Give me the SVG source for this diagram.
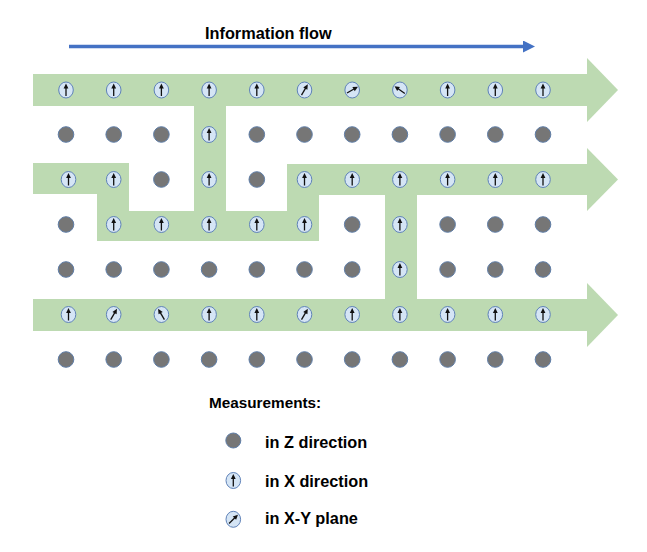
<svg xmlns="http://www.w3.org/2000/svg" xmlns:xlink="http://www.w3.org/1999/xlink" width="647" height="552" viewBox="0 0 647 552">
<style>
.t{font-family:"Liberation Sans",Arial,sans-serif;font-weight:bold;fill:#000}
.z{fill:#767676;stroke:#5f7ea8;stroke-width:1}
.xb{fill:#d5e5f5;stroke:#5f82b8;stroke-width:1}
.flow{fill:#bddab2}
</style>
<defs>
<ellipse id="xc" rx="7.3" ry="8" class="xb"/>
<g id="arr"><path d="M0,6 V-2.5" stroke="#111" stroke-width="1.3" fill="none"/><path d="M-2.4,-1.6 L0,-6.6 L2.4,-1.6Z" fill="#111"/></g>
<marker id="bh" viewBox="0 0 12 12" refX="0" refY="6" markerWidth="12" markerHeight="12" markerUnits="userSpaceOnUse" orient="auto"><path d="M0,0 L12,6 L0,12Z" fill="#4472c4"/></marker>
</defs>
<rect width="647" height="552" fill="#fff"/>

<g id="flow-paths" class="flow">
<rect x="33" y="74" width="555" height="32"/>
<polygon points="587,58 618,90 587,122"/>
<rect x="194" y="105" width="32" height="136"/>
<rect x="97" y="211" width="221" height="30"/>
<rect x="33" y="163" width="96" height="31"/>
<rect x="97" y="163" width="32" height="78"/>
<rect x="287" y="164" width="32" height="77"/>
<rect x="287" y="164" width="301" height="31"/>
<polygon points="587,148 618,179.5 587,211"/>
<rect x="385" y="194" width="32" height="106"/>
<rect x="33" y="299" width="555" height="32"/>
<polygon points="587,283 618,315 587,347"/>
</g>

<g id="connectors">
<line x1="69" y1="46.5" x2="523" y2="46.5" stroke="#4472c4" stroke-width="3.3" marker-end="url(#bh)"/>
</g>
<text class="t" x="205" y="39" font-size="16.3">Information flow</text>

<!-- Row 1 -->
<g id="r1">
<g id="r1c1"><use href="#xc" x="66" y="90"/><use href="#arr" transform="translate(66,90)"/></g>
<g id="r1c2"><use href="#xc" x="113.7" y="90"/><use href="#arr" transform="translate(113.7,90)"/></g>
<g id="r1c3"><use href="#xc" x="161.4" y="90"/><use href="#arr" transform="translate(161.4,90)"/></g>
<g id="r1c4"><use href="#xc" x="209.1" y="90"/><use href="#arr" transform="translate(209.1,90)"/></g>
<g id="r1c5"><use href="#xc" x="256.8" y="90"/><use href="#arr" transform="translate(256.8,90)"/></g>
<g id="r1c6"><use href="#xc" x="304.5" y="90"/><use href="#arr" transform="translate(304.5,90) rotate(30)"/></g>
<g id="r1c7"><use href="#xc" x="352.2" y="90"/><use href="#arr" transform="translate(352.2,90) rotate(60)"/></g>
<g id="r1c8"><use href="#xc" x="399.9" y="90"/><use href="#arr" transform="translate(399.9,90) rotate(-55)"/></g>
<g id="r1c9"><use href="#xc" x="447.6" y="90"/><use href="#arr" transform="translate(447.6,90)"/></g>
<g id="r1c10"><use href="#xc" x="495.3" y="90"/><use href="#arr" transform="translate(495.3,90)"/></g>
<g id="r1c11"><use href="#xc" x="543" y="90"/><use href="#arr" transform="translate(543,90)"/></g>
</g>

<!-- Row 2 -->
<g id="r2">
<g id="r2c1"><circle class="z" cx="66" cy="134.5" r="7.8"/></g>
<g id="r2c2"><circle class="z" cx="113.7" cy="134.5" r="7.8"/></g>
<g id="r2c3"><circle class="z" cx="161.4" cy="134.5" r="7.8"/></g>
<g id="r2c4"><use href="#xc" x="209.1" y="134.5"/><use href="#arr" transform="translate(209.1,134.5)"/></g>
<g id="r2c5"><circle class="z" cx="256.8" cy="134.5" r="7.8"/></g>
<g id="r2c6"><circle class="z" cx="304.5" cy="134.5" r="7.8"/></g>
<g id="r2c7"><circle class="z" cx="352.2" cy="134.5" r="7.8"/></g>
<g id="r2c8"><circle class="z" cx="399.9" cy="134.5" r="7.8"/></g>
<g id="r2c9"><circle class="z" cx="447.6" cy="134.5" r="7.8"/></g>
<g id="r2c10"><circle class="z" cx="495.3" cy="134.5" r="7.8"/></g>
<g id="r2c11"><circle class="z" cx="543" cy="134.5" r="7.8"/></g>
</g>

<!-- Row 3 -->
<g id="r3">
<g id="r3c1"><use href="#xc" x="68.5" y="179.5"/><use href="#arr" transform="translate(68.5,179.5)"/></g>
<g id="r3c2"><use href="#xc" x="113.7" y="179.5"/><use href="#arr" transform="translate(113.7,179.5)"/></g>
<g id="r3c3"><circle class="z" cx="161.4" cy="179.5" r="7.8"/></g>
<g id="r3c4"><use href="#xc" x="209.1" y="179.5"/><use href="#arr" transform="translate(209.1,179.5)"/></g>
<g id="r3c5"><circle class="z" cx="256.8" cy="179.5" r="7.8"/></g>
<g id="r3c6"><use href="#xc" x="304.5" y="179.5"/><use href="#arr" transform="translate(304.5,179.5)"/></g>
<g id="r3c7"><use href="#xc" x="352.2" y="179.5"/><use href="#arr" transform="translate(352.2,179.5)"/></g>
<g id="r3c8"><use href="#xc" x="399.9" y="179.5"/><use href="#arr" transform="translate(399.9,179.5)"/></g>
<g id="r3c9"><use href="#xc" x="447.6" y="179.5"/><use href="#arr" transform="translate(447.6,179.5)"/></g>
<g id="r3c10"><use href="#xc" x="495.3" y="179.5"/><use href="#arr" transform="translate(495.3,179.5)"/></g>
<g id="r3c11"><use href="#xc" x="543" y="179.5"/><use href="#arr" transform="translate(543,179.5)"/></g>
</g>

<!-- Row 4 -->
<g id="r4">
<g id="r4c1"><circle class="z" cx="66" cy="224.5" r="7.8"/></g>
<g id="r4c2"><use href="#xc" x="113.7" y="224.5"/><use href="#arr" transform="translate(113.7,224.5)"/></g>
<g id="r4c3"><use href="#xc" x="161.4" y="224.5"/><use href="#arr" transform="translate(161.4,224.5)"/></g>
<g id="r4c4"><use href="#xc" x="209.1" y="224.5"/><use href="#arr" transform="translate(209.1,224.5)"/></g>
<g id="r4c5"><use href="#xc" x="256.8" y="224.5"/><use href="#arr" transform="translate(256.8,224.5)"/></g>
<g id="r4c6"><use href="#xc" x="304.5" y="224.5"/><use href="#arr" transform="translate(304.5,224.5)"/></g>
<g id="r4c7"><circle class="z" cx="352.2" cy="224.5" r="7.8"/></g>
<g id="r4c8"><use href="#xc" x="399.9" y="224.5"/><use href="#arr" transform="translate(399.9,224.5)"/></g>
<g id="r4c9"><circle class="z" cx="447.6" cy="224.5" r="7.8"/></g>
<g id="r4c10"><circle class="z" cx="495.3" cy="224.5" r="7.8"/></g>
<g id="r4c11"><circle class="z" cx="543" cy="224.5" r="7.8"/></g>
</g>

<!-- Row 5 -->
<g id="r5">
<g id="r5c1"><circle class="z" cx="66" cy="269.5" r="7.8"/></g>
<g id="r5c2"><circle class="z" cx="113.7" cy="269.5" r="7.8"/></g>
<g id="r5c3"><circle class="z" cx="161.4" cy="269.5" r="7.8"/></g>
<g id="r5c4"><circle class="z" cx="209.1" cy="269.5" r="7.8"/></g>
<g id="r5c5"><circle class="z" cx="256.8" cy="269.5" r="7.8"/></g>
<g id="r5c6"><circle class="z" cx="304.5" cy="269.5" r="7.8"/></g>
<g id="r5c7"><circle class="z" cx="352.2" cy="269.5" r="7.8"/></g>
<g id="r5c8"><use href="#xc" x="399.9" y="269.5"/><use href="#arr" transform="translate(399.9,269.5)"/></g>
<g id="r5c9"><circle class="z" cx="447.6" cy="269.5" r="7.8"/></g>
<g id="r5c10"><circle class="z" cx="495.3" cy="269.5" r="7.8"/></g>
<g id="r5c11"><circle class="z" cx="543" cy="269.5" r="7.8"/></g>
</g>

<!-- Row 6 -->
<g id="r6">
<g id="r6c1"><use href="#xc" x="68.5" y="314.5"/><use href="#arr" transform="translate(68.5,314.5)"/></g>
<g id="r6c2"><use href="#xc" x="113.7" y="314.5"/><use href="#arr" transform="translate(113.7,314.5) rotate(30)"/></g>
<g id="r6c3"><use href="#xc" x="161.4" y="314.5"/><use href="#arr" transform="translate(161.4,314.5) rotate(-30)"/></g>
<g id="r6c4"><use href="#xc" x="209.1" y="314.5"/><use href="#arr" transform="translate(209.1,314.5)"/></g>
<g id="r6c5"><use href="#xc" x="256.8" y="314.5"/><use href="#arr" transform="translate(256.8,314.5)"/></g>
<g id="r6c6"><use href="#xc" x="304.5" y="314.5"/><use href="#arr" transform="translate(304.5,314.5) rotate(30)"/></g>
<g id="r6c7"><use href="#xc" x="352.2" y="314.5"/><use href="#arr" transform="translate(352.2,314.5)"/></g>
<g id="r6c8"><use href="#xc" x="399.9" y="314.5"/><use href="#arr" transform="translate(399.9,314.5)"/></g>
<g id="r6c9"><use href="#xc" x="447.6" y="314.5"/><use href="#arr" transform="translate(447.6,314.5)"/></g>
<g id="r6c10"><use href="#xc" x="495.3" y="314.5"/><use href="#arr" transform="translate(495.3,314.5)"/></g>
<g id="r6c11"><use href="#xc" x="543" y="314.5"/><use href="#arr" transform="translate(543,314.5)"/></g>
</g>

<!-- Row 7 -->
<g id="r7">
<g id="r7c1"><circle class="z" cx="66" cy="359.5" r="7.8"/></g>
<g id="r7c2"><circle class="z" cx="113.7" cy="359.5" r="7.8"/></g>
<g id="r7c3"><circle class="z" cx="161.4" cy="359.5" r="7.8"/></g>
<g id="r7c4"><circle class="z" cx="209.1" cy="359.5" r="7.8"/></g>
<g id="r7c5"><circle class="z" cx="256.8" cy="359.5" r="7.8"/></g>
<g id="r7c6"><circle class="z" cx="304.5" cy="359.5" r="7.8"/></g>
<g id="r7c7"><circle class="z" cx="352.2" cy="359.5" r="7.8"/></g>
<g id="r7c8"><circle class="z" cx="399.9" cy="359.5" r="7.8"/></g>
<g id="r7c9"><circle class="z" cx="447.6" cy="359.5" r="7.8"/></g>
<g id="r7c10"><circle class="z" cx="495.3" cy="359.5" r="7.8"/></g>
<g id="r7c11"><circle class="z" cx="543" cy="359.5" r="7.8"/></g>
</g>

<!-- Legend -->
<g id="legend">
<text class="t" x="209" y="408" font-size="15.3">Measurements:</text>
<g id="leg-z"><circle class="z" cx="233.3" cy="440.5" r="7.5"/><text class="t" x="265" y="448" font-size="16.3">in Z direction</text></g>
<g id="leg-x"><use href="#xc" x="233.3" y="480.5"/><use href="#arr" transform="translate(233.3,480.5)"/><text class="t" x="265" y="486.5" font-size="16.3">in X direction</text></g>
<g id="leg-xy"><use href="#xc" x="233.3" y="519.3"/><use href="#arr" transform="translate(233.3,519.3) rotate(45)"/><text class="t" x="265" y="524" font-size="16.3">in X-Y plane</text></g>
</g>
</svg>
